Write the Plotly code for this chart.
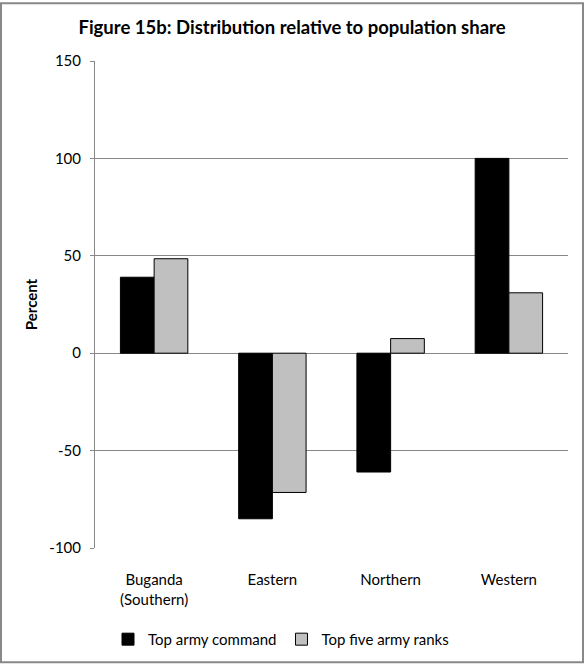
import plotly.graph_objects as go

categories = ["Buganda<br>(Southern)", "Eastern", "Northern", "Western"]
top_army_command = [39, -85, -61, 100]
top_five_army_ranks = [48.5, -71.5, 7.5, 31]
y_ticks = [-100, -50, 0, 50, 100, 150]
y_tick_text = ["-100", "-50", "0", "50", "100", "150"]

FONT = "Lato"
W, H = 584, 668
L, R, T, B = 95, 16, 61, 117
pw, ph = W - L - R, H - T - B

def px_x(x):
    return (x - L) / pw

def px_y(y):
    return (H - B - y) / ph

fig = go.Figure()
fig.add_trace(go.Bar(
    x=categories, y=top_army_command, name="Top army command",
    marker=dict(color="#000000", line=dict(color="#000000", width=1)),
))
fig.add_trace(go.Bar(
    x=categories, y=top_five_army_ranks, name="Top five army ranks",
    marker=dict(color="#c0c0c0", line=dict(color="#000000", width=1)),
))

fig.update_layout(
    width=W, height=H,
    margin=dict(l=L, r=R, t=T, b=B, pad=0),
    paper_bgcolor="white", plot_bgcolor="white",
    barmode="group", bargap=0.43, bargroupgap=0,
    font=dict(family=FONT, size=15, color="#000000"),
    title=dict(
        text="<b>Figure 15b: Distribution relative to population share</b>",
        font=dict(family=FONT, size=18.5, color="#000000"),
        x=0.5, xanchor="center", xref="container",
        y=1 - 28 / H, yanchor="middle", yref="container",
    ),
    xaxis=dict(
        showline=False, showgrid=False, zeroline=False, ticks="",
        tickfont=dict(family=FONT, size=15),
        ticklabelstandoff=21,
    ),
    yaxis=dict(
        range=[-100, 150], tickvals=y_ticks, ticktext=y_tick_text,
        showgrid=True, gridcolor="#888888", gridwidth=1,
        zeroline=True, zerolinecolor="#888888", zerolinewidth=1,
        showline=True, linecolor="#888888", linewidth=1,
        ticks="outside", ticklen=4, tickcolor="#888888",
        tickfont=dict(family=FONT, size=15),
        ticklabelstandoff=6,
        title=dict(text="<b>Percent</b>", font=dict(family=FONT, size=15), standoff=8),
    ),
    legend=dict(
        orientation="h", x=px_x(108), xanchor="left", y=px_y(643), yanchor="middle",
        font=dict(family=FONT, size=15), bgcolor="rgba(0,0,0,0)",
        itemwidth=30, traceorder="normal",
    ),
    shapes=[dict(
        type="rect", xref="paper", yref="paper",
        x0=px_x(1), x1=px_x(583), y0=px_y(666), y1=px_y(3),
        line=dict(color="#888888", width=2), fillcolor="rgba(0,0,0,0)", layer="below",
    )],
)

fig.write_html(
    "out.html",
    config={"displayModeBar": False},
    post_script="document.body.style.margin='0';document.body.style.overflow='hidden';",
)
